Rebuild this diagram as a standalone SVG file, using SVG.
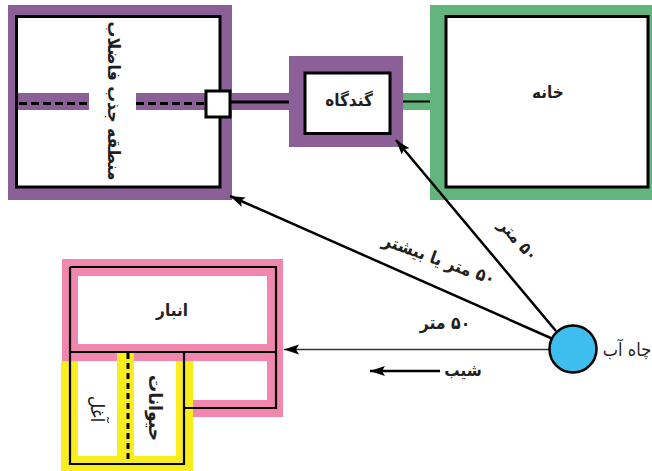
<svg xmlns="http://www.w3.org/2000/svg" width="652" height="471" viewBox="0 0 652 471">
<style>
text{font-family:"DejaVu Sans Condensed","DejaVu Sans","Noto Sans",sans-serif;font-stretch:condensed;font-weight:bold;fill:#231f20;text-anchor:middle;direction:rtl}
.k{fill:none;stroke:#000;stroke-width:3}
.t{fill:none;stroke:#000;stroke-width:2.2}
.d{fill:none;stroke:#000;stroke-width:3;stroke-dasharray:8 4}
.w{fill:#fff;stroke:none}
.p{fill:#8b6098}.g{fill:#63b57d}.n{fill:#f186af}.y{fill:#f9ed1d}
</style>
<defs><marker id="a" markerUnits="userSpaceOnUse" markerWidth="16" markerHeight="12" refX="15" refY="5" orient="auto"><path d="M0 0L15 5L0 10L3 5Z" fill="#000"/></marker></defs>
<g id="septic-zone">
<rect class="p" x="8" y="5" width="224" height="195"/>
<rect class="w" x="17" y="17" width="203" height="170"/>
<rect class="p" x="17" y="93" width="72" height="17"/>
<rect class="p" x="136" y="93" width="70" height="17"/>
<rect class="k" x="16.5" y="16.5" width="203.500" height="170.500"/>
<path class="d" d="M19 103.500H89M136 103.500H206"/>
<text transform="translate(108,101) rotate(90)" font-size="17.500">منطقه جذب فاضلاب</text>
</g>
<g id="pipes">
<rect class="p" x="230" y="93" width="60" height="17"/>
<rect class="g" x="403" y="93" width="28" height="17"/>
<path class="k" d="M226 102H305"/>
<path class="t" d="M390 101.500H447"/>
</g>
<g id="manhole"><rect class="w" x="206" y="91" width="24" height="26"/><rect class="k" x="206" y="91" width="24" height="26"/></g>
<g id="toilet">
<rect class="p" x="289" y="56" width="114" height="91"/>
<rect class="w" x="305" y="73" width="85" height="60"/>
<rect class="k" x="305" y="73" width="85" height="60.500"/>
<text x="349" y="106" font-size="17">گندگاه</text>
</g>
<g id="house">
<rect class="g" x="430" y="5" width="222" height="195"/>
<rect class="w" x="446" y="17" width="202" height="170"/>
<rect class="k" x="446" y="16.500" width="202" height="170.500"/>
<text x="548" y="98" font-size="17">خانه</text>
</g>
<g id="farm-building">
<rect class="n" x="62" y="259" width="221" height="158"/>
<rect class="y" x="61" y="361" width="132" height="110"/>
<rect class="y" x="117" y="352" width="17" height="9"/>
<rect class="w" x="78" y="276" width="189" height="68"/>
<rect class="w" x="193" y="361" width="74" height="39"/>
<rect class="w" x="78" y="361" width="39" height="95"/>
<rect class="w" x="134" y="361" width="42" height="95"/>
<path class="t" d="M70 267H276V408H184M70 267V464H184V352M70 352H276"/>
<path class="d" d="M128 353V464" style="stroke-dasharray:6 4"/>
<text x="172" y="316" font-size="17">انبار</text>
<text transform="translate(91,409) rotate(90)" font-size="19" style="font-weight:normal">آغل</text>
<text transform="translate(149,408) rotate(90)" font-size="19">حیوانات</text>
</g>
<g id="connectors">
<path d="M556 331L396 140" stroke="#000" stroke-width="2.500" marker-end="url(#a)"/>
<path d="M553 339L230 196" stroke="#000" stroke-width="2.500" marker-end="url(#a)"/>
<path d="M550 349.500H284" stroke="#333" stroke-width="1.500" marker-end="url(#a)"/>
<path d="M440 371H370" stroke="#000" stroke-width="2.500" marker-end="url(#a)"/>
</g>
<g id="well"><circle cx="573" cy="349" r="23.500" fill="#3dbeef" stroke="#000" stroke-width="2.500"/>
<text x="627" y="356" font-size="18" style="font-weight:normal">چاه آب</text></g>
<g id="labels">
<text transform="translate(514,244) rotate(48)" font-size="17">۵۰ متر</text>
<text transform="translate(437,265) rotate(20)" font-size="17.500">۵۰ متر یا بیشتر</text>
<text x="445" y="329" font-size="17.500">۵۰ متر</text>
<text x="463" y="376" font-size="17">شیب</text>
</g>
</svg>
